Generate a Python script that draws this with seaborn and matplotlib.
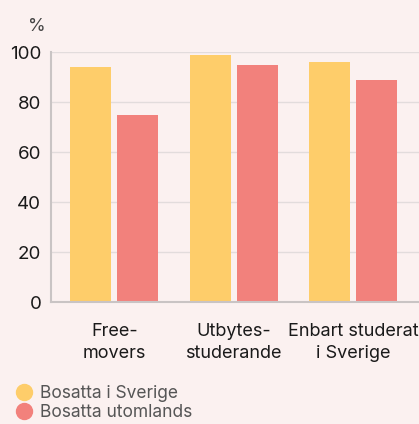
import pandas as pd
import matplotlib.pyplot as plt
from matplotlib.lines import Line2D
import seaborn as sns

# Data
categories = ["Free-\nmovers", "Utbytes-\nstuderande", "Enbart studerat\ni Sverige"]
series = ["Bosatta i Sverige", "Bosatta utomlands"]
sverige = [94, 99, 96]
utomlands = [75, 95, 89]
yticks = [0, 20, 40, 60, 80, 100]

colors = ["#FECD6A", "#F2817C"]
bg = "#FBF1F0"

df = pd.DataFrame({
    "kategori": categories * 2,
    "grupp": [series[0]] * 3 + [series[1]] * 3,
    "andel": sverige + utomlands,
})

sns.set_theme(style="white")
plt.rcParams["font.family"] = ["Inter", "DejaVu Sans"]

fig = plt.figure(figsize=(4.19, 4.24), dpi=100, facecolor=bg)
ax = fig.add_axes([0.1217, 0.2877, 0.878, 0.5896], facecolor=bg)

sns.barplot(data=df, x="kategori", y="andel", hue="grupp", palette=colors,
            width=0.79, gap=0.13, saturation=1, linewidth=0, ax=ax, legend=False)

ax.set_ylim(0, 100)
ax.set_xlim(-0.53, 2.55)
ax.set_yticks(yticks)
ax.yaxis.grid(True, color="#E2DCDC", linewidth=1)
ax.set_axisbelow(True)
ax.set_xlabel("")
ax.set_ylabel("")
for s in ["top", "right"]:
    ax.spines[s].set_visible(False)
for s in ["left", "bottom"]:
    ax.spines[s].set_color("#C9C4C4")
    ax.spines[s].set_linewidth(1.5)
ax.tick_params(axis="both", length=0, colors="#1a1a1a")
ax.tick_params(axis="y", pad=7, labelsize=13.5)
ax.tick_params(axis="x", pad=15, labelsize=13)
for t in ax.get_xticklabels():
    t.set_linespacing(1.4)

fig.text(0.088, 0.938, "%", ha="center", va="center", fontsize=13, color="#444444")

handles = [Line2D([], [], marker="o", linestyle="", markersize=11.5,
                  markerfacecolor=c, markeredgecolor=c) for c in colors]
fig.legend(handles, series, loc="upper left", bbox_to_anchor=(0.015, 0.113),
           frameon=False, fontsize=12.5, labelcolor="#555555", handletextpad=0.45,
           labelspacing=0.15, borderpad=0, handlelength=1.0)

fig.savefig("out.png", dpi=100, facecolor=bg)
